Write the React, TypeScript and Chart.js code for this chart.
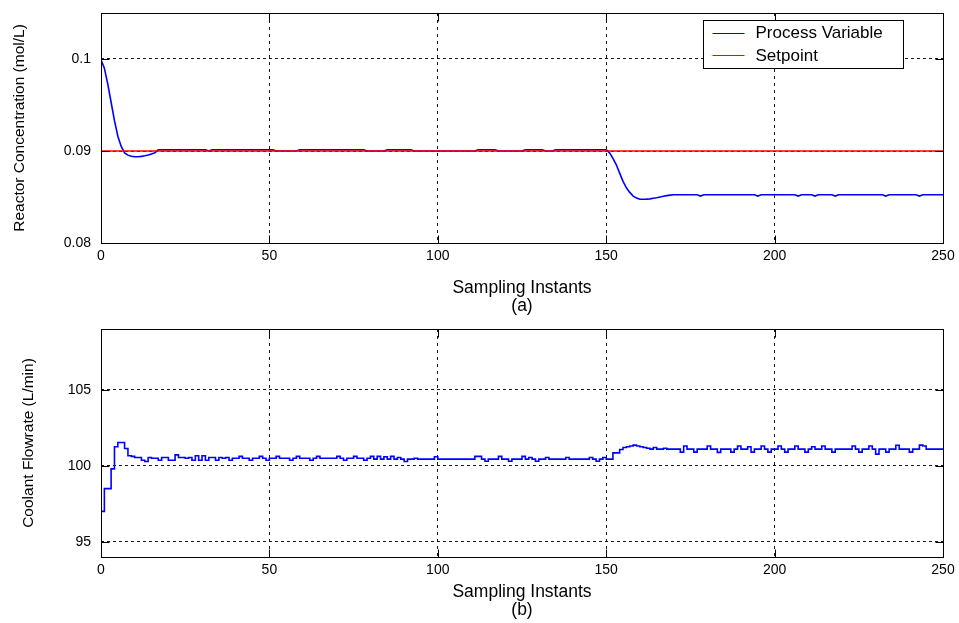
import React, { useEffect, useRef } from 'react';
import { Chart, registerables } from 'chart.js';

Chart.register(...registerables);

// ---------- data ----------
const xTicks = [0, 50, 100, 150, 200, 250];
const topYTicks = [0.08, 0.09, 0.1];
const bottomYTicks = [95, 100, 105];

// Process variable (reactor concentration) sampled points
const pvX = [
  0, 1, 2, 3, 4, 5, 6, 7, 8, 9, 10, 11, 12, 13, 14, 15, 16, 17,
  31, 32, 33, 51, 52, 58, 59, 78, 79, 84, 85, 92, 93, 111, 112, 117, 118, 125, 126, 131, 132, 134, 135, 150,
  151, 152, 153, 154, 155, 156, 157, 158, 159, 160, 161, 162, 163, 164, 165, 166, 167, 168, 169, 170,
  177, 178, 179, 194, 195, 196, 206, 207, 208, 211, 212, 213, 217, 218, 219, 232, 233, 234, 242, 243, 244, 250,
];
const pvY = [
  0.0999, 0.099, 0.0973, 0.0953, 0.0933, 0.0916, 0.0905, 0.0898, 0.08955, 0.08942, 0.08938, 0.08938, 0.08942, 0.08948, 0.08956, 0.08968, 0.0898, 0.09014,
  0.09014, 0.09, 0.09014, 0.09014, 0.09, 0.09, 0.09014, 0.09014, 0.09, 0.09, 0.09014, 0.09014, 0.09, 0.09, 0.09014, 0.09014, 0.09, 0.09, 0.09014, 0.09014, 0.09, 0.09, 0.09014, 0.09014,
  0.0898, 0.0892, 0.0885, 0.0876, 0.0867, 0.086, 0.0855, 0.0851, 0.0849, 0.08476, 0.08475, 0.08477, 0.0848, 0.08486, 0.08492, 0.085, 0.08508, 0.08515, 0.0852, 0.08525,
  0.08525, 0.0851, 0.08525, 0.08525, 0.0851, 0.08525, 0.08525, 0.0851, 0.08525, 0.08525, 0.0851, 0.08525, 0.08525, 0.0851, 0.08525, 0.08525, 0.0851, 0.08525, 0.08525, 0.0851, 0.08525, 0.08525,
];

// Setpoint
const spX = [0, 250];
const spY = [0.09, 0.09];

// Coolant flowrate, one value per sampling instant (stairs), last repeated at x = 250
const flow = [
  97.0, 98.5, 98.5, 99.8, 101.25, 101.53, 101.53, 101.14, 100.66, 100.62,
  100.55, 100.55, 100.37, 100.28, 100.55, 100.5, 100.5, 100.37, 100.55, 100.55,
  100.37, 100.37, 100.72, 100.55, 100.55, 100.5, 100.55, 100.37, 100.66, 100.37,
  100.66, 100.37, 100.55, 100.55, 100.37, 100.55, 100.5, 100.55, 100.37, 100.5,
  100.5, 100.62, 100.5, 100.5, 100.37, 100.5, 100.5, 100.62, 100.5, 100.37,
  100.5, 100.5, 100.62, 100.5, 100.5, 100.5, 100.37, 100.5, 100.62, 100.5,
  100.5, 100.5, 100.37, 100.5, 100.62, 100.5, 100.5, 100.5, 100.5, 100.5,
  100.62, 100.5, 100.37, 100.5, 100.5, 100.62, 100.5, 100.5, 100.37, 100.5,
  100.62, 100.44, 100.62, 100.44, 100.6, 100.44, 100.62, 100.44, 100.55, 100.44,
  100.28, 100.44, 100.44, 100.5, 100.44, 100.44, 100.44, 100.44, 100.44, 100.6,
  100.44, 100.44, 100.44, 100.44, 100.44, 100.44, 100.44, 100.44, 100.44, 100.44,
  100.44, 100.62, 100.62, 100.44, 100.3, 100.44, 100.44, 100.44, 100.62, 100.44,
  100.44, 100.3, 100.44, 100.44, 100.44, 100.62, 100.44, 100.55, 100.44, 100.3,
  100.44, 100.44, 100.55, 100.44, 100.44, 100.44, 100.44, 100.44, 100.55, 100.44,
  100.44, 100.44, 100.44, 100.44, 100.44, 100.55, 100.44, 100.3, 100.44, 100.55,
  100.44, 100.44, 100.85, 100.85, 101.07, 101.2, 101.25, 101.3, 101.36, 101.3,
  101.25, 101.2, 101.15, 101.1, 101.2, 101.1, 101.1, 101.15, 101.1, 101.1,
  101.1, 101.1, 100.9, 101.3, 101.1, 101.1, 100.9, 101.1, 101.1, 101.1,
  101.3, 101.1, 101.1, 100.88, 101.1, 101.1, 101.1, 100.9, 101.1, 101.3,
  101.1, 101.1, 101.25, 100.9, 101.1, 101.1, 101.3, 101.1, 100.9, 101.1,
  101.1, 101.3, 101.1, 100.9, 101.1, 101.1, 101.3, 101.1, 101.1, 100.9,
  101.1, 101.25, 101.1, 101.1, 101.3, 101.1, 101.1, 100.9, 101.1, 101.1,
  101.1, 101.1, 101.1, 101.3, 101.1, 100.9, 101.1, 101.1, 101.3, 101.1,
  100.77, 101.1, 101.1, 100.9, 101.1, 101.1, 101.35, 101.1, 101.1, 101.1,
  100.9, 101.1, 101.1, 101.36, 101.3, 101.1, 101.1, 101.1, 101.1, 101.1,
  101.1,
];

// ---------- styling ----------
const W = 959;
const TICK_FONT = { family: "'Liberation Sans', Arial, sans-serif", size: 14 };
const TITLE_FAMILY = "'Liberation Sans', Arial, sans-serif";

const boxPlugin = {
  id: 'matlabBox',
  afterDatasetsDraw(chart: any) {
    const { ctx, chartArea, scales } = chart;
    const L = Math.round(chartArea.left) + 0.5;
    const R = Math.round(chartArea.right) + 0.5;
    const T = Math.round(chartArea.top) + 0.5;
    const B = Math.round(chartArea.bottom) + 0.5;
    ctx.save();
    ctx.strokeStyle = '#000';
    ctx.lineWidth = 1;
    ctx.setLineDash([]);
    ctx.strokeRect(L, T, R - L, B - T);
    const tl = 8;
    ctx.beginPath();
    scales.x.ticks.forEach((t: any) => {
      const px = Math.round(scales.x.getPixelForValue(t.value)) + 0.5;
      ctx.moveTo(px, B); ctx.lineTo(px, B - tl);
      ctx.moveTo(px, T); ctx.lineTo(px, T + tl);
    });
    scales.y.ticks.forEach((t: any) => {
      const py = Math.round(scales.y.getPixelForValue(t.value)) + 0.5;
      ctx.moveTo(L, py); ctx.lineTo(L + tl, py);
      ctx.moveTo(R, py); ctx.lineTo(R - tl, py);
    });
    ctx.stroke();
    ctx.restore();
  },
};

const legendPlugin = {
  id: 'matlabLegend',
  afterDraw(chart: any, _args: any, opts: any) {
    if (!opts || !opts.show) return;
    const { ctx, chartArea } = chart;
    const items = chart.data.datasets
      .map((ds: any) => ds)
      .sort((a: any, b: any) => (a.legendRank ?? 0) - (b.legendRank ?? 0));
    const bw = 200, bh = 48;
    const bx = Math.round(chartArea.right) - 40 - bw + 0.5;
    const by = Math.round(chartArea.top) + 7 + 0.5;
    ctx.save();
    ctx.fillStyle = '#fff';
    ctx.fillRect(bx, by, bw, bh);
    ctx.strokeStyle = '#000';
    ctx.lineWidth = 1;
    ctx.setLineDash([]);
    ctx.strokeRect(bx, by, bw, bh);
    ctx.font = `17px ${TITLE_FAMILY}`;
    ctx.textBaseline = 'middle';
    ctx.textAlign = 'left';
    items.forEach((ds: any, i: number) => {
      const y = by + 12 + i * 22.5;
      ctx.strokeStyle = ds.borderColor;
      ctx.lineWidth = 1.2;
      ctx.beginPath();
      ctx.moveTo(bx + 9, Math.round(y) + 0.5);
      ctx.lineTo(bx + 41, Math.round(y) + 0.5);
      ctx.stroke();
      ctx.fillStyle = '#000';
      ctx.fillText(ds.label, bx + 52, y + 1);
    });
    ctx.restore();
  },
};

function makeScales(opts: {
  yMin: number; yMax: number; yTicks: number[]; yTitle: string; yTitlePad: number;
  xTitle: string[]; xTitlePad: number; xHeight: number; yTitleSize: number;
}) {
  const gridCommon = {
    color: 'rgba(0,0,0,0.9)',
    lineWidth: 1,
    drawTicks: false,
  };
  return {
    x: {
      type: 'linear' as const,
      min: 0,
      max: 250,
      afterBuildTicks: (s: any) => { s.ticks = xTicks.map((v) => ({ value: v })); },
      afterFit: (s: any) => {
        s.height = opts.xHeight;
        s.paddingLeft = 0; s.paddingRight = 0; s.paddingTop = 0; s.paddingBottom = 0;
      },
      grid: { ...gridCommon },
      border: { display: false, dash: [3, 4] },
      ticks: { font: TICK_FONT, color: '#000', padding: 5, maxRotation: 0, autoSkip: false, callback: (v: any) => String(v) },
      title: {
        display: true,
        text: opts.xTitle,
        color: '#000',
        font: { family: TITLE_FAMILY, size: 17.5, lineHeight: '18px' },
        padding: { top: 0, bottom: opts.xTitlePad },
      },
    },
    y: {
      type: 'linear' as const,
      min: opts.yMin,
      max: opts.yMax,
      afterBuildTicks: (s: any) => { s.ticks = opts.yTicks.map((v) => ({ value: v })); },
      afterFit: (s: any) => {
        s.width = 101;
        s.paddingLeft = 0; s.paddingRight = 0; s.paddingTop = 0; s.paddingBottom = 0;
      },
      grid: { ...gridCommon },
      border: { display: false, dash: [3, 3] },
      ticks: { font: TICK_FONT, color: '#000', padding: 10, callback: (v: any) => String(v) },
      title: {
        display: true,
        text: opts.yTitle,
        color: '#000',
        font: { family: TITLE_FAMILY, size: opts.yTitleSize, lineHeight: 1.2 },
        padding: { top: opts.yTitlePad, bottom: 0 },
      },
    },
  };
}

function Panel(props: { top: number; height: number; config: any }) {
  const ref = useRef<HTMLCanvasElement | null>(null);
  useEffect(() => {
    if (!ref.current) return;
    const chart = new Chart(ref.current, props.config);
    return () => chart.destroy();
  }, []);
  return (
    <canvas
      ref={ref}
      width={W}
      height={props.height}
      style={{ position: 'absolute', left: 0, top: props.top, width: W, height: props.height, display: 'block' }}
    />
  );
}

const TOP_H = 318;
const BOT_H = 305;

const topConfig = {
  type: 'line',
  data: {
    datasets: [
      {
        label: 'Setpoint',
        legendRank: 1,
        data: spX.map((x, i) => ({ x, y: spY[i] })),
        borderColor: '#ff0000',
        borderWidth: 1.5,
        pointRadius: 0,
        fill: false,
      },
      {
        label: 'Process Variable',
        legendRank: 0,
        data: pvX.map((x, i) => ({ x, y: pvY[i] })),
        borderColor: '#0000ff',
        borderWidth: 1.6,
        pointRadius: 0,
        fill: false,
        tension: 0,
      },
    ],
  },
  options: {
    responsive: false,
    animation: false,
    devicePixelRatio: 1,
    layout: { padding: { left: 0, top: 13, right: 16, bottom: 0 } },
    plugins: {
      legend: { display: false },
      tooltip: { enabled: false },
      matlabLegend: { show: true },
    },
    scales: makeScales({
      yMin: 0.08, yMax: 0.105, yTicks: topYTicks,
      yTitle: 'Reactor Concentration (mol/L)', yTitlePad: 10, yTitleSize: 15.5,
      xTitle: ['Sampling Instants', '(a)'], xTitlePad: 3, xHeight: TOP_H - 13 - 230,
    }),
  },
  plugins: [boxPlugin, legendPlugin],
};

const bottomConfig = {
  type: 'line',
  data: {
    datasets: [
      {
        label: 'Coolant Flowrate',
        data: flow.map((y, i) => ({ x: i, y })),
        borderColor: '#0000ff',
        borderWidth: 1.6,
        pointRadius: 0,
        fill: false,
        stepped: true,
      },
    ],
  },
  options: {
    responsive: false,
    animation: false,
    devicePixelRatio: 1,
    layout: { padding: { left: 0, top: 11, right: 16, bottom: 0 } },
    plugins: {
      legend: { display: false },
      tooltip: { enabled: false },
      matlabLegend: { show: false },
    },
    scales: makeScales({
      yMin: 94, yMax: 109, yTicks: bottomYTicks,
      yTitle: 'Coolant Flowrate (L/min)', yTitlePad: 19, yTitleSize: 15.5,
      xTitle: ['Sampling Instants', '(b)'], xTitlePad: 4, xHeight: BOT_H - 11 - 228,
    }),
  },
  plugins: [boxPlugin, legendPlugin],
};

export default function App() {
  return (
    <div style={{ position: 'absolute', left: 0, top: 0, width: W, height: TOP_H + BOT_H, background: '#fff' }}>
      <Panel top={0} height={TOP_H} config={topConfig} />
      <Panel top={TOP_H} height={BOT_H} config={bottomConfig} />
    </div>
  );
}
